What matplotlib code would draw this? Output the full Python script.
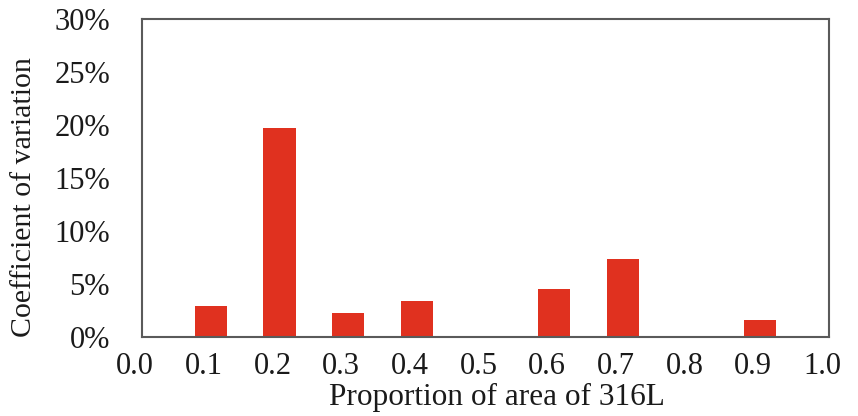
import matplotlib
matplotlib.use("Agg")
import matplotlib.pyplot as plt
import matplotlib.transforms as mtransforms
from matplotlib.ticker import FuncFormatter

# area fraction of 316L and the coefficient of variation (%) at each one
proportion = [0.1, 0.2, 0.3, 0.4, 0.6, 0.7, 0.9]
cv_percent = [2.9, 19.7, 2.3, 3.4, 4.5, 7.4, 1.6]
xtick_values = [0.0, 0.1, 0.2, 0.3, 0.4, 0.5, 0.6, 0.7, 0.8, 0.9, 1.0]
ytick_values = [0, 5, 10, 15, 20, 25, 30]

plt.rcParams['font.family'] = ['Liberation Serif', 'DejaVu Serif']

fig = plt.figure(figsize=(8.58, 4.16), dpi=100)
ax = fig.add_axes([0.1655, 0.19, 0.8007, 0.7643])

ax.bar(proportion, cv_percent, width=0.047, color='#E0311F')

ax.set_xlim(0, 1.0)
ax.set_ylim(0, 30)
ax.set_xticks(xtick_values)
ax.set_xticklabels(['%.1f' % v for v in xtick_values])
ax.set_yticks(ytick_values)
ax.yaxis.set_major_formatter(FuncFormatter(lambda v, p: '%d%%' % v))

ax.tick_params(axis='both', length=0, labelsize=22, colors='#1a1a1a')
ax.tick_params(axis='x', pad=11)
ax.tick_params(axis='y', pad=23)
# x labels sit a little left of their ticks
shift = mtransforms.ScaledTranslation(-7 / 100, 0, fig.dpi_scale_trans)
for lbl in ax.get_xticklabels():
    lbl.set_transform(lbl.get_transform() + shift)

for sp in ax.spines.values():
    sp.set_color('#5a5a5a')
    sp.set_linewidth(1.5)

ax.set_xlabel('Proportion of area of 316L', fontsize=22.5, color='#1a1a1a', labelpad=1)
ax.xaxis.label.set_x(0.516)
ax.set_ylabel('Coefficient of variation', fontsize=21.5, color='#1a1a1a')
ax.yaxis.set_label_coords(-0.153, 0.44)

fig.savefig('out.png', dpi=100)
